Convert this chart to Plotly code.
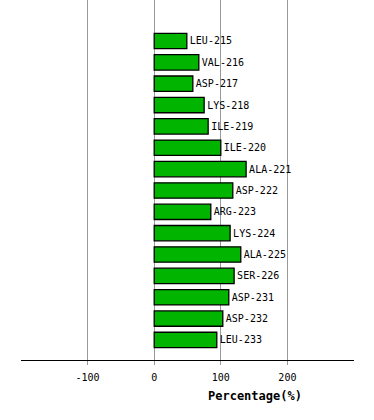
import plotly.graph_objects as go

residues = ["LEU-215", "VAL-216", "ASP-217", "LYS-218", "ILE-219", "ILE-220", "ALA-221",
            "ASP-222", "ARG-223", "LYS-224", "ALA-225", "SER-226", "ASP-231", "ASP-232", "LEU-233"]
percentages = [49, 67, 58, 75, 81, 100, 138, 118, 85, 114, 130, 120, 112, 103, 94]
tick_values = [-100, 0, 100, 200]
tick_labels = ["-100", "0", "100", "200"]

positions = list(range(len(residues)))

fig = go.Figure(go.Bar(
    x=percentages,
    y=positions,
    orientation="h",
    width=0.72,
    marker=dict(color="#00b400", line=dict(color="black", width=1.3)),
    text=residues,
    textposition="outside",
    constraintext="none",
    cliponaxis=False,
    textfont=dict(family="DejaVu Sans Mono", size=10, color="black"),
    hoverinfo="skip",
))

fig.update_layout(
    width=374, height=420,
    margin=dict(l=21, r=20, t=0, b=60),
    paper_bgcolor="white", plot_bgcolor="white",
    showlegend=False,
    font=dict(family="DejaVu Sans Mono", size=10, color="black"),
    xaxis=dict(
        range=[-200, 300],
        tickvals=tick_values, ticktext=tick_labels,
        showgrid=True, gridcolor="#999999", gridwidth=1,
        zeroline=True, zerolinecolor="#999999", zerolinewidth=1,
        showline=True, linecolor="black", linewidth=1,
        ticks="outside", ticklen=4, tickcolor="#999999",
        ticklabelstandoff=4,
        tickfont=dict(family="DejaVu Sans Mono", size=10),
        fixedrange=True,
    ),
    yaxis=dict(
        range=[14.94, -1.92],
        showticklabels=False, showgrid=False, zeroline=False, showline=False,
        fixedrange=True,
    ),
    annotations=[dict(
        text="<b>Percentage(%)</b>", x=152, xref="x", y=0, yref="paper",
        yshift=-36, yanchor="middle", xanchor="center", showarrow=False,
        font=dict(family="DejaVu Sans Mono", size=12, color="black"),
    )],
)

fig.write_html("out.html", config={"displayModeBar": False},
               post_script="document.body.style.margin='0';")
